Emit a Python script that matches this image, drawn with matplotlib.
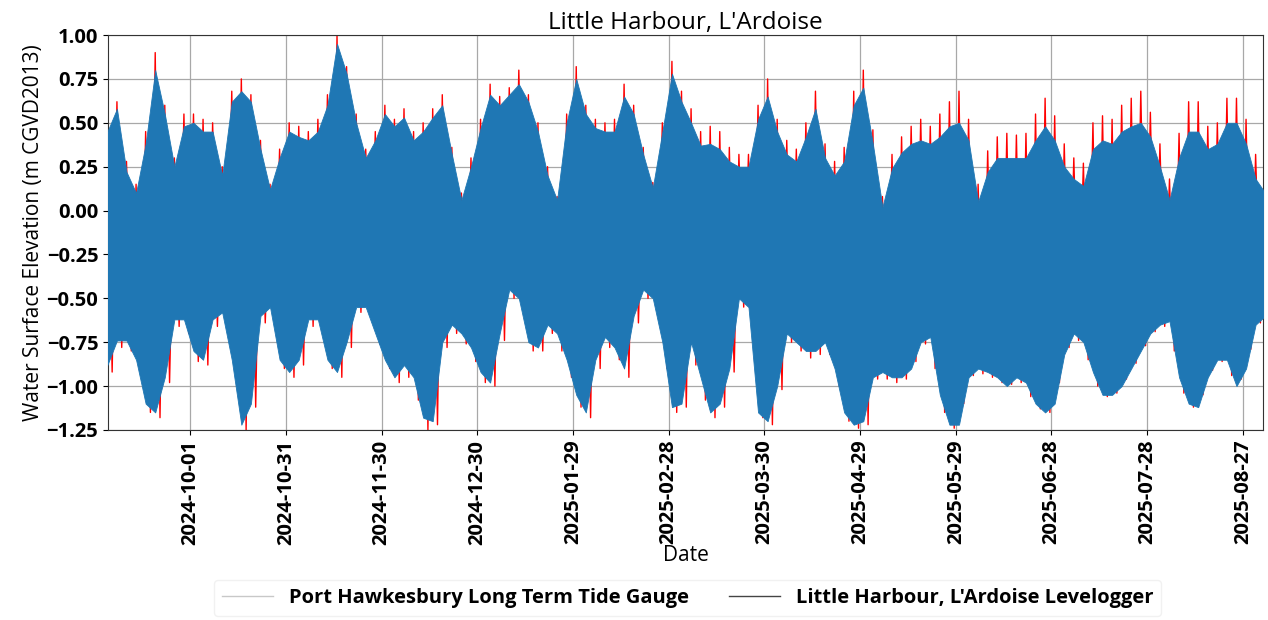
import numpy as np
import pandas as pd
import matplotlib
matplotlib.use("Agg")
import matplotlib.pyplot as plt
import matplotlib.dates as mdates
from matplotlib.lines import Line2D

# envelope of the tide record, every 3 days from 2024-09-05
start_date = "2024-09-05"
step_days = 3

# Little Harbour, L'Ardoise Levelogger (blue): high / low water
blue_high = [
    0.45, 0.58, 0.22, 0.10, 0.38, 0.80, 0.55, 0.25, 0.48, 0.50,
    0.45, 0.45, 0.20, 0.62, 0.68, 0.62, 0.35, 0.12, 0.30, 0.45,
    0.42, 0.40, 0.45, 0.60, 0.95, 0.78, 0.50, 0.30, 0.40, 0.55,
    0.48, 0.53, 0.40, 0.45, 0.53, 0.60, 0.32, 0.06, 0.25, 0.47,
    0.66, 0.60, 0.66, 0.72, 0.62, 0.45, 0.20, 0.06, 0.50, 0.75,
    0.55, 0.47, 0.45, 0.45, 0.65, 0.55, 0.32, 0.13, 0.45, 0.78,
    0.62, 0.50, 0.37, 0.38, 0.35, 0.28, 0.25, 0.25, 0.52, 0.65,
    0.45, 0.32, 0.28, 0.42, 0.58, 0.30, 0.20, 0.28, 0.60, 0.70,
    0.38, 0.02, 0.24, 0.33, 0.38, 0.40, 0.38, 0.42, 0.48, 0.50,
    0.40, 0.05, 0.22, 0.30, 0.30, 0.30, 0.30, 0.40, 0.48, 0.40,
    0.25, 0.18, 0.14, 0.35, 0.40, 0.38, 0.45, 0.48, 0.50, 0.42,
    0.25, 0.06, 0.30, 0.45, 0.45, 0.35, 0.38, 0.50, 0.50, 0.38,
    0.18, 0.10,
]
blue_low = [
    -0.88, -0.74, -0.74, -0.85, -1.10, -1.15, -0.95, -0.62, -0.62, -0.80,
    -0.85, -0.62, -0.58, -0.85, -1.22, -1.10, -0.60, -0.55, -0.85, -0.92,
    -0.85, -0.62, -0.62, -0.85, -0.92, -0.75, -0.55, -0.55, -0.70, -0.85,
    -0.95, -0.88, -0.95, -1.18, -1.20, -0.75, -0.65, -0.70, -0.78, -0.92,
    -0.98, -0.70, -0.45, -0.50, -0.75, -0.78, -0.65, -0.70, -0.85, -1.05,
    -1.15, -0.85, -0.72, -0.78, -0.90, -0.60, -0.45, -0.50, -0.75, -1.12,
    -1.10, -0.75, -0.95, -1.15, -1.10, -0.90, -0.50, -0.55, -1.15, -1.20,
    -1.00, -0.70, -0.75, -0.80, -0.80, -0.75, -0.90, -1.15, -1.22, -1.20,
    -0.95, -0.92, -0.95, -0.95, -0.90, -0.75, -0.72, -1.05, -1.22, -1.22,
    -0.95, -0.90, -0.92, -0.95, -1.00, -0.95, -0.98, -1.10, -1.15, -1.10,
    -0.82, -0.70, -0.75, -0.92, -1.05, -1.05, -1.00, -0.90, -0.80, -0.70,
    -0.65, -0.63, -0.95, -1.10, -1.12, -0.95, -0.85, -0.85, -1.00, -0.90,
    -0.65, -0.60,
]

# Port Hawkesbury Long Term Tide Gauge (red): high / low water
red_high = [
    0.50, 0.62, 0.28, 0.15, 0.45, 0.90, 0.60, 0.30, 0.55, 0.55,
    0.52, 0.50, 0.25, 0.68, 0.75, 0.66, 0.40, 0.15, 0.35, 0.50,
    0.48, 0.45, 0.52, 0.66, 1.00, 0.82, 0.55, 0.35, 0.45, 0.60,
    0.52, 0.58, 0.45, 0.50, 0.58, 0.66, 0.36, 0.10, 0.30, 0.52,
    0.72, 0.65, 0.70, 0.80, 0.66, 0.50, 0.25, 0.08, 0.55, 0.82,
    0.60, 0.52, 0.50, 0.52, 0.72, 0.60, 0.36, 0.16, 0.50, 0.85,
    0.68, 0.58, 0.45, 0.48, 0.45, 0.36, 0.32, 0.32, 0.60, 0.75,
    0.52, 0.40, 0.35, 0.50, 0.68, 0.38, 0.28, 0.36, 0.68, 0.80,
    0.46, 0.08, 0.32, 0.42, 0.48, 0.52, 0.48, 0.55, 0.62, 0.68,
    0.52, 0.15, 0.34, 0.42, 0.44, 0.43, 0.44, 0.55, 0.64, 0.54,
    0.38, 0.30, 0.27, 0.50, 0.54, 0.52, 0.60, 0.64, 0.68, 0.56,
    0.38, 0.18, 0.44, 0.62, 0.62, 0.48, 0.50, 0.64, 0.64, 0.52,
    0.32, 0.22,
]
red_low = [
    -0.92, -0.78, -0.80, -0.92, -1.15, -1.18, -0.98, -0.66, -0.70, -0.86,
    -0.88, -0.66, -0.65, -0.95, -1.25, -1.12, -0.64, -0.60, -0.90, -0.95,
    -0.88, -0.66, -0.66, -0.90, -0.95, -0.78, -0.58, -0.60, -0.76, -0.90,
    -0.98, -0.95, -1.08, -1.25, -1.22, -0.78, -0.70, -0.76, -0.86, -0.98,
    -1.00, -0.74, -0.50, -0.55, -0.80, -0.80, -0.70, -0.80, -0.95, -1.12,
    -1.18, -0.90, -0.78, -0.85, -0.95, -0.64, -0.50, -0.55, -0.90, -1.15,
    -1.12, -0.88, -1.08, -1.18, -1.12, -0.92, -0.55, -0.75, -1.18, -1.22,
    -1.02, -0.75, -0.80, -0.84, -0.82, -0.82, -1.00, -1.20, -1.24, -1.22,
    -0.96, -0.96, -0.98, -0.96, -0.86, -0.76, -0.90, -1.15, -1.24, -1.10,
    -0.94, -0.93, -0.95, -0.98, -0.99, -0.98, -1.06, -1.13, -1.15, -0.98,
    -0.78, -0.74, -0.85, -1.00, -1.06, -1.04, -0.96, -0.87, -0.77, -0.69,
    -0.66, -0.80, -1.04, -1.12, -1.05, -0.91, -0.86, -0.94, -0.96, -0.79,
    -0.64, -0.60,
]

tick_dates = ["2024-10-01", "2024-10-31", "2024-11-30", "2024-12-30",
              "2025-01-29", "2025-02-28", "2025-03-30", "2025-04-29",
              "2025-05-29", "2025-06-28", "2025-07-28", "2025-08-27"]

plt.rcParams["font.family"] = ["Open Sans", "DejaVu Sans"]

fig, ax = plt.subplots(figsize=(12.68, 6.2), dpi=100)
fig.subplots_adjust(left=0.0852, right=0.996, top=0.9435, bottom=0.3065)

t = mdates.date2num(pd.date_range(start_date, periods=len(blue_high),
                                  freq=f"{step_days}D"))

# red gauge drawn as high/low zigzag behind the blue logger band
zx = np.column_stack([t, t + step_days / 2]).ravel()
zy = np.column_stack([red_high, red_low]).ravel()
ax.plot(zx, zy, color="red", lw=1.0, zorder=2)
ax.fill_between(t, blue_low, blue_high, color="#1f77b4", lw=0.6,
                edgecolor="#1f77b4", zorder=3)

ax.set_xlim(mdates.date2num(pd.Timestamp("2024-09-05 05:00")),
            mdates.date2num(pd.Timestamp("2025-09-02 07:00")))
ax.set_ylim(-1.25, 1.0)
ax.set_yticks(np.arange(-1.25, 1.01, 0.25))
ax.set_xticks(mdates.date2num(pd.to_datetime(tick_dates)))
ax.xaxis.set_major_formatter(mdates.DateFormatter("%Y-%m-%d"))
for lab in ax.get_xticklabels():
    lab.set_rotation(90)
    lab.set_fontweight("bold")
for lab in ax.get_yticklabels():
    lab.set_fontweight("bold")
ax.tick_params(labelsize=14.5)
ax.grid(True, color="#a8a8a8", lw=0.9, zorder=0)
ax.set_axisbelow(True)
for sp in ax.spines.values():
    sp.set_color("#333333")

ax.set_title("Little Harbour, L'Ardoise", fontsize=17.5, pad=3)
ax.set_xlabel("Date", fontsize=15, labelpad=0)
ax.set_ylabel("Water Surface Elevation (m CGVD2013)", fontsize=15,
              labelpad=2)

handles = [Line2D([], [], color="#c8c8c8", lw=1),
           Line2D([], [], color="#444444", lw=1)]
labels = ["Port Hawkesbury Long Term Tide Gauge",
          "Little Harbour, L'Ardoise Levelogger"]
ax.legend(handles, labels, loc="center", bbox_to_anchor=(0.502, -0.425),
          ncol=2, prop={"weight": "bold", "size": 14.5}, handlelength=2.5,
          columnspacing=2.0, edgecolor="#eeeeee")

fig.savefig("out.png", dpi=100)
